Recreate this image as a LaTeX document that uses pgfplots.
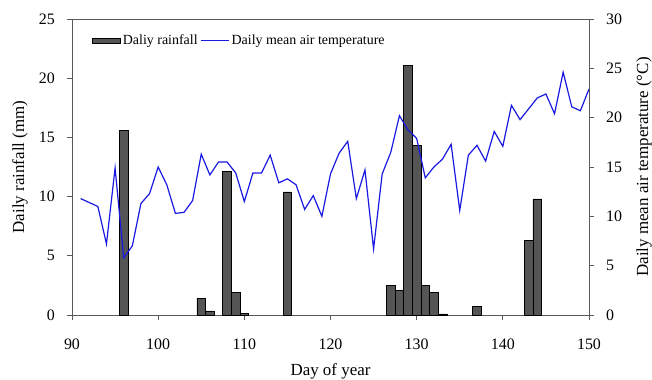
\documentclass[border=0pt]{standalone}
\usepackage{pgfplots}
\pgfplotsset{compat=1.18}
\usepackage{fontspec}
\setmainfont{Liberation Serif}
\definecolor{barcol}{RGB}{85,85,85}
\definecolor{linecol}{RGB}{25,25,225}
\definecolor{axcol}{RGB}{90,90,90}
\pgfplotstableread{
day rain
96 15.6
105 1.4
106 0.35
108 12.1
109 1.9
110 0.14
115 10.4
127 2.5
128 2.1
129 21.1
130 14.3
131 2.5
132 1.9
133 0.1
137 0.7
143 6.3
144 9.8
}\raintable
\pgfplotstableread{
day temp
91 11.8
92 11.4
93 11.0
94 7.2
95 14.9
96 5.8
97 7.0
98 11.3
99 12.3
100 15.0
101 13.2
102 10.3
103 10.4
104 11.6
105 16.3
106 14.2
107 15.5
108 15.5
109 14.4
110 11.5
111 14.4
112 14.4
113 16.2
114 13.4
115 13.8
116 13.2
117 10.7
118 12.1
119 10.0
120 14.3
121 16.4
122 17.6
123 11.8
124 14.7
125 6.7
126 14.3
127 16.5
128 20.2
129 18.75
130 17.9
131 13.9
132 15.0
133 15.8
134 17.3
135 10.6
136 16.2
137 17.2
138 15.6
139 18.6
140 17.1
141 21.25
142 19.8
143 20.9
144 22.0
145 22.4
146 20.4
147 24.6
148 21.1
149 20.7
150 22.9
}\temptable
\begin{document}
\begin{tikzpicture}
\pgfplotsset{
  common/.style={
    scale only axis, width=517bp, height=296bp,
    at={(0,0)}, anchor=south west,
    xmin=90, xmax=150,
    tick align=outside,
    major tick length=5bp,
    axis line style={axcol, line width=0.8bp},
    every tick/.style={axcol, line width=0.8bp},
    /pgf/number format/assume math mode=true,
    tick label style={font=\fontsize{16}{19}\selectfont, inner sep=0pt},
    label style={font=\fontsize{17}{20}\selectfont, inner sep=0pt},
  }
}
\begin{axis}[common,
  ymin=0, ymax=25,
  xtick={90,100,...,150},
  ytick={0,5,...,25},
  xtick pos=left, ytick pos=left,
  xlabel={Day of year},
  ylabel={Daily rainfall (mm)},
  xlabel style={at={(axis description cs:0.5,0)}, anchor=base, yshift=-60bp},
  ylabel style={at={(axis description cs:-0.1006,0.5)}, anchor=center},
  xticklabel style={anchor=base, yshift=-29bp},
  yticklabel style={anchor=east, xshift=-12bp},
]
\addplot[ybar, bar width=1, bar shift=0pt, fill=barcol, draw=black, line width=0.6bp] table[x=day, y=rain] {\raintable};
\end{axis}
\begin{axis}[common,
  ymin=0, ymax=30,
  axis y line*=right,
  axis x line=none,
  ytick={0,5,...,30},
  ylabel={Daily mean air temperature (\textdegree C)},
  ylabel style={at={(axis description cs:1.1064,0.5)}, anchor=center},
  yticklabel style={anchor=west, xshift=12bp},
  legend style={at={(rel axis cs:0,1)}, anchor=west, xshift=19.7bp, yshift=-21.7bp,
    draw=none, fill=none, inner sep=0pt,
    legend columns=2, font=\fontsize{14}{16}\selectfont,
    nodes={inner sep=2.5bp}},
]
\addlegendimage{legend image code/.code={\draw[fill=barcol, draw=black, line width=0.5bp] (0bp,-2.5bp) rectangle (28bp,2.5bp);}}
\addlegendentry{Daliy rainfall}
\addplot[color=linecol, line width=1.2bp, mark=none,
  legend image code/.code={\draw[linecol, line width=1bp] (0bp,0bp) -- (28bp,0bp);}] table[x=day, y=temp] {\temptable};
\addlegendentry{Daily mean air temperature}
\end{axis}
\pgfresetboundingbox
\useasboundingbox (-72bp,-65bp) rectangle (580bp,315bp);
\end{tikzpicture}
\end{document}
